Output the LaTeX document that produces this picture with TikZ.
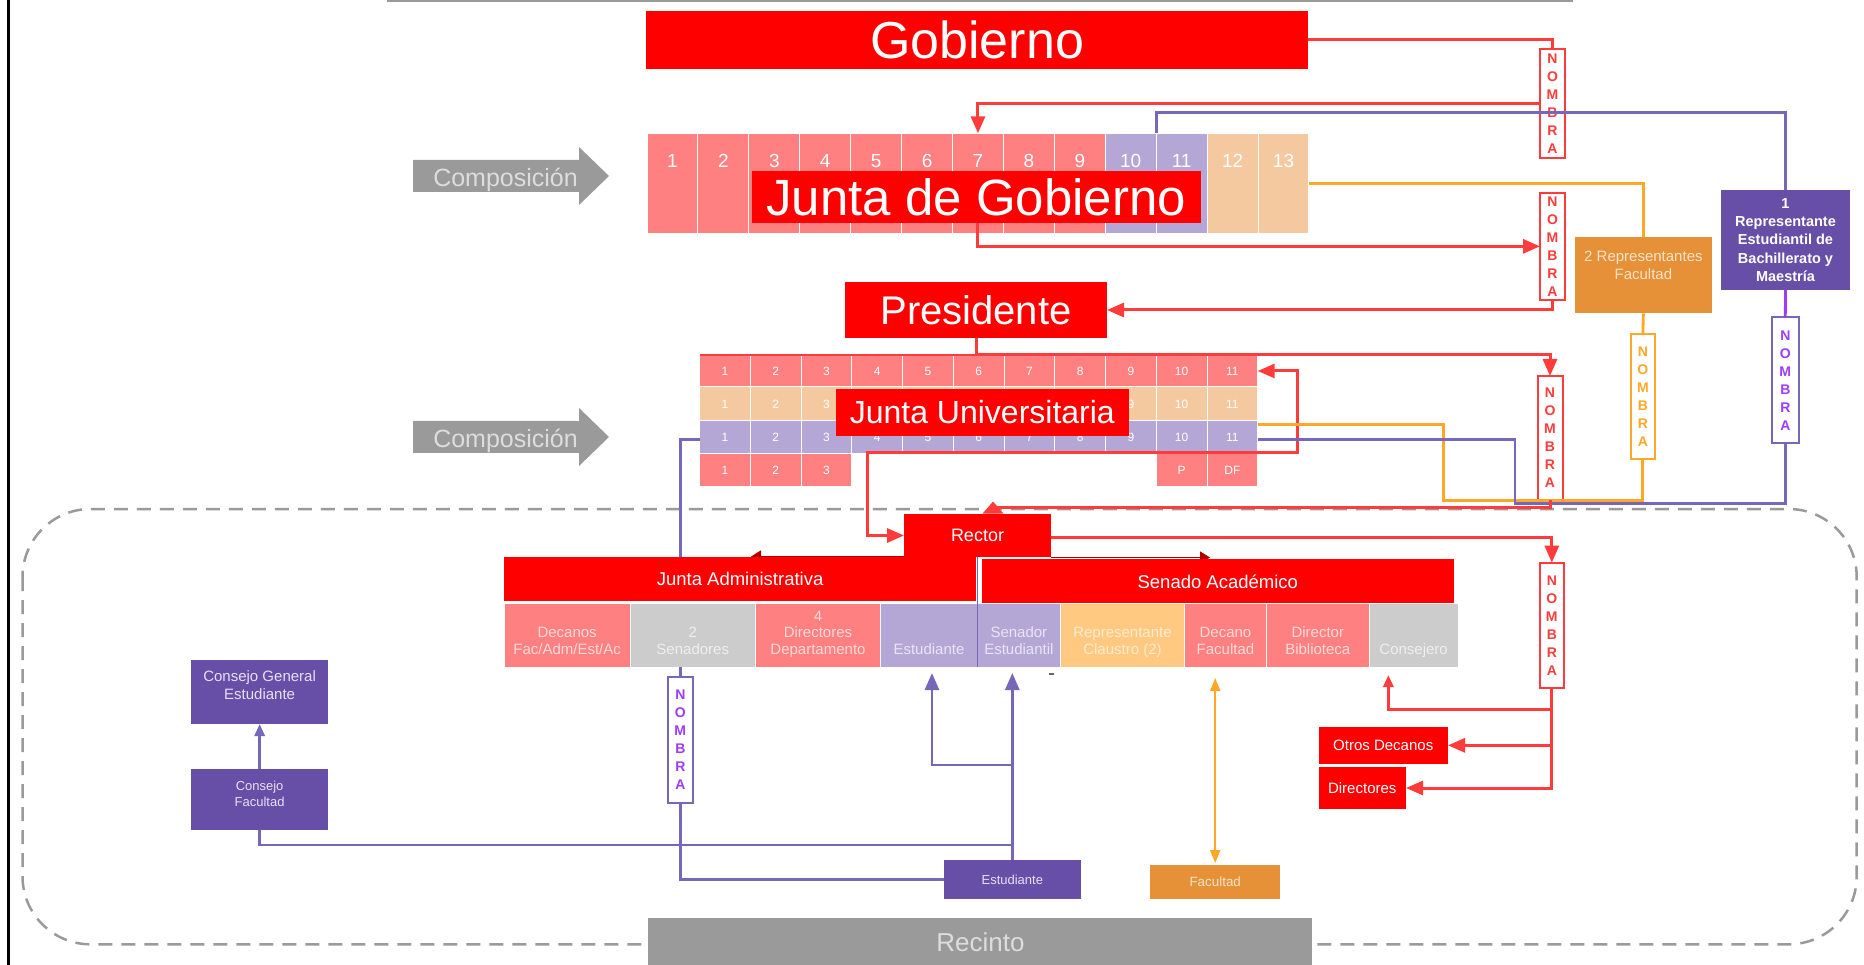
\documentclass[tikz,border=0pt]{standalone}
\usepackage{fontspec}
\setmainfont{Liberation Sans}
\usetikzlibrary{arrows.meta,calc}
\definecolor{cred}{HTML}{FF0000}
\definecolor{csalmon}{HTML}{FF8080}
\definecolor{clav}{HTML}{B4A7D6}
\definecolor{cpeach}{HTML}{F4C9A0}
\definecolor{cdpur}{HTML}{674EA7}
\definecolor{cora}{HTML}{E69138}
\definecolor{cgray}{HTML}{9A9A9A}
\definecolor{clgray}{HTML}{CCCCCC}
\definecolor{clora}{HTML}{FFC982}
\definecolor{lred}{HTML}{FF3B3B}
\definecolor{lpur}{HTML}{7767B8}
\definecolor{lora}{HTML}{FFA726}
\definecolor{lvio}{HTML}{9D3CFF}
\definecolor{dred}{HTML}{B00000}
\definecolor{tsal}{HTML}{FFD9D9}
\definecolor{tgry}{HTML}{EFEFEF}
\definecolor{tlav}{HTML}{E9E4F6}
\definecolor{tlor}{HTML}{FFEBD0}
\definecolor{tpur}{HTML}{E6E0F4}
\definecolor{tora}{HTML}{FCE3C8}
\definecolor{tcomp}{HTML}{DDDDDD}
\newcommand\myfs[2]{\fontsize{#1}{#2}\selectfont}
\newcommand\celltxt[1]{\begin{tabular}[b]{@{}c@{}}#1\end{tabular}}
\begin{document}
\begin{tikzpicture}[x=1pt,y=-1pt,
  bx/.style 2 args={inner sep=0pt,outer sep=0pt,anchor=north west,align=center,minimum width=#1pt,minimum height=#2pt},
  nb/.style 2 args={fill=white,draw=#1,text=#2,line width=2pt,font=\myfs{14}{18}\bfseries},
  ctx/.style={anchor=base,inner sep=0pt,outer sep=0pt,font=\myfs{15}{16.5}},
  rl/.style={draw=lred,line width=3pt},
  pl/.style={draw=lpur,line width=2.8pt},
  ol/.style={draw=lora,line width=2.8pt},
  vl/.style={draw=lvio,line width=2.8pt},
  myarr/.style={-{Triangle[length=17pt,width=14pt]}},
  myarrs/.style={-{Triangle[length=12pt,width=10pt]}},
]
\useasboundingbox (0,0) rectangle (1864,965);
\fill[white] (0,0) rectangle (1864,965);
\draw[cgray,line width=2pt] (387,1) -- (1573,1);
\draw[black,line width=3pt] (8.5,0) -- (8.5,965);

% dashed campus frame
\draw[cgray,line width=2.5pt,dash pattern=on 14pt off 9pt,rounded corners=68pt] (22.5,509) rectangle (1856.7,944.3);
\node[bx={664}{47},fill=cgray,text=tcomp,font=\myfs{26}{30}] (rec) at (648.4,918.3) {Recinto};

% Gobierno
\node[bx={662}{58},fill=cred,text=white,font=\myfs{52}{60}] (gob) at (646,11) {Gobierno};

% Junta de Gobierno composition
\foreach \i/\c in {1/csalmon,2/csalmon,3/csalmon,4/csalmon,5/csalmon,6/csalmon,7/csalmon,8/csalmon,9/csalmon,10/clav,11/clav,12/cpeach,13/cpeach}{
  \node[bx={50.92}{100},fill=\c,draw=white,line width=1pt] (g\i) at ({647+(\i-1)*50.92},133.3) {};
  \node[anchor=base,inner sep=0pt,text=white,font=\myfs{19}{22}] (gn\i) at ({647+(\i-0.5)*50.92},168) {\i};
}
\node[bx={448.5}{52.6},fill=cred,text=white,font=\myfs{51}{60}] (jdg) at (752,170.7) {Junta de Gobierno};

% Composicion arrows
\fill[cgray] (413,160) -- (579,160) -- (579,147) -- (609,176) -- (579,205) -- (579,192) -- (413,192) -- cycle;
\node[anchor=base,inner sep=0pt,text=tcomp,font=\myfs{25}{30}] (comp1) at (505.5,186.7) {Composición};
\fill[cgray] (413,421) -- (579,421) -- (579,408) -- (609,437) -- (579,466) -- (579,453) -- (413,453) -- cycle;
\node[anchor=base,inner sep=0pt,text=tcomp,font=\myfs{25}{30}] (comp2) at (505.5,447.7) {Composición};

% Presidente
\node[bx={262}{56},fill=cred,text=white,font=\myfs{40}{48}] (pres) at (845,282) {Presidente};

% Junta Universitaria grid
\foreach \r/\y/\h/\c in {1/355/32/csalmon,2/387/34/cpeach,3/421/32.5/clav}{
  \foreach \i in {1,...,11}{
    \node[bx={50.73}{\h},fill=\c,draw=white,line width=1pt] (ju\r-\i) at ({699.7+(\i-1)*50.73},\y) {};
  }
}
\foreach \r/\y in {1/371,3/437.25}{
  \foreach \i in {1,...,11}{
    \node[inner sep=0pt,text=white,font=\myfs{12}{14}] (jn\r-\i) at ({699.7+(\i-0.5)*50.73},\y) {\i};
  }
}
\foreach \i in {1,2,3,9,10,11}{
  \node[inner sep=0pt,text=white,font=\myfs{12}{14}] (jn2-\i) at ({699.7+(\i-0.5)*50.73},404) {\i};
}
\foreach \i/\t in {1/1,2/2,3/3,10/P,11/DF}{
  \node[bx={50.73}{32},fill=csalmon,draw=white,line width=1pt,text=white,font=\myfs{12}{14}] (ju4-\i) at ({699.7+(\i-1)*50.73},454) {\t};
}
\draw[lred,line width=1.5pt] (ju1-1.north west) -- (ju1-11.north east);
\node[bx={293.7}{47},fill=cred,text=white,font=\myfs{32}{38}] (jul) at (835.5,389) {Junta Universitaria};

% representatives
\node[bx={137.2}{76},fill=cora] (rep2) at (1574.8,237.3) {};
\node[ctx,font=\myfs{15}{18},text=tora] (rep2t) at (1643.4,279.5) {\celltxt{2 Representantes\\Facultad}};
\node[bx={129}{100},fill=cdpur,text=white,font=\myfs{14.5}{18.2}\bfseries] (rep1) at (1721,190) {1\\Representante\\Estudiantil de\\Bachillerato y\\Maestría};

% NOMBRA boxes
\node[bx={25}{109},nb={lred}{lred}] (nb1) at (1540,49) {N\\O\\M\\B\\R\\A};
\node[bx={25}{107.3},nb={lred}{lred}] (nb2) at (1540,192.7) {N\\O\\M\\B\\R\\A};
\node[bx={24.3}{125.3},nb={lora}{lora}] (nb3) at (1630.7,334) {N\\O\\M\\B\\R\\A};
\node[bx={25}{124},nb={lred}{lred}] (nb4) at (1537.5,376) {N\\O\\M\\B\\R\\A};
\node[bx={27}{126},nb={lpur}{lvio}] (nb5) at (1771.8,317.3) {N\\O\\M\\B\\R\\A};
\node[bx={23.6}{125.6},nb={lred}{lred}] (nb6) at (1540,562.7) {N\\O\\M\\B\\R\\A};
\node[bx={24.6}{126},nb={lpur}{lvio}] (nb7) at (668,676.7) {N\\O\\M\\B\\R\\A};

% Rector and councils
\node[bx={147}{43},fill=cred,text=white,font=\myfs{18}{22}] (rector) at (904,514) {Rector};
\coordinate (jaTip) at (751,556.5);
\coordinate (saTip) at (1210,557.5);
\draw[dred,line width=1.5pt,-{Triangle[length=10pt,width=12pt]}] ($(rector.west)+(0,21)$) -- (jaTip);
\draw[dred,line width=1.5pt,-{Triangle[length=10pt,width=12pt]}] ($(rector.east)+(0,22)$) -- (saTip);
\node[bx={471.8}{44},fill=cred,text=white,font=\myfs{18.5}{22}] (ja) at (504.2,556.7) {Junta Administrativa};
\node[bx={471.6}{44.3},fill=cred,text=white,font=\myfs{18.5}{22}] (sa) at (982,559.3) {Senado Académico};

% members row
\node[bx={125.8}{64},fill=csalmon,draw=white,line width=1pt] (cDec) at (504.2,603) {};
\node[bx={125.5}{64},fill=clgray,draw=white,line width=1pt] (cSen) at (630,603) {};
\node[bx={125}{64},fill=csalmon,draw=white,line width=1pt] (cDir) at (755.5,603) {};
\node[bx={96.9}{64},fill=clav,draw=white,line width=1pt] (cEst) at (880.5,603) {};
\node[bx={82.9}{64},fill=clav,draw=white,line width=1pt] (cSE) at (977.4,603) {};
\node[bx={124.3}{64},fill=clora,draw=white,line width=1pt] (cRep) at (1060.3,603) {};
\node[bx={81.7}{64},fill=csalmon,draw=white,line width=1pt] (cDF) at (1184.6,603) {};
\node[bx={103}{64},fill=csalmon,draw=white,line width=1pt] (cDB) at (1266.3,603) {};
\node[bx={88.7}{64},fill=clgray,draw=white,line width=1pt] (cCon) at (1369.3,603) {};
\node[ctx,text=tsal] (tDec) at (567.1,654) {\celltxt{Decanos\\Fac/Adm/Est/Ac}};
\node[ctx,text=tgry] (tSen) at (692.75,654) {\celltxt{2\\Senadores}};
\node[ctx,text=tsal] (tDir) at (818,654) {\celltxt{4\\Directores\\Departamento}};
\node[ctx,text=tlav] (tEst) at (928.95,654) {\celltxt{Estudiante}};
\node[ctx,text=tlav] (tSE) at (1018.85,654) {\celltxt{Senador\\Estudiantil}};
\node[ctx,text=tlor] (tRep) at (1122.45,654) {\celltxt{Representante\\Claustro (2)}};
\node[ctx,text=tsal] (tDF) at (1225.45,654) {\celltxt{Decano\\Facultad}};
\node[ctx,text=tsal] (tDB) at (1317.8,654) {\celltxt{Director\\Biblioteca}};
\node[ctx,text=tgry] (tCon) at (1413.65,654) {\celltxt{Consejero}};
\draw[lpur,line width=1.5pt] (cEst.south east) -- (cEst.south east |- ja.north);
\draw[black!60,line width=2pt] (1048.5,674) -- (1053.5,674);

% lower boxes
\node[bx={137.5}{64},fill=cdpur] (cge) at (190.9,660) {};
\node[ctx,font=\myfs{15}{18.3},text=tpur] (cget) at (259.6,699.7) {\celltxt{Consejo General\\Estudiante}};
\node[bx={137.5}{60.7},fill=cdpur] (cf) at (190.9,769.3) {};
\node[ctx,font=\myfs{13}{15.7},text=tpur] (cft) at (259.6,806.4) {\celltxt{Consejo\\Facultad}};
\node[bx={136.8}{39.3},fill=cdpur,text=tpur,font=\myfs{13}{16}] (est) at (943.9,860) {Estudiante};
\node[bx={129.6}{34.3},fill=cora,text=tora,font=\myfs{13.4}{16}] (fac) at (1150.4,865) {Facultad};
\node[bx={129.5}{37.3},fill=cred,text=white,font=\myfs{15}{18}] (od) at (1318.5,726.7) {Otros Decanos};
\node[bx={87.5}{42.6},fill=cred,text=white,font=\myfs{15}{18}] (dirs) at (1318.5,766.7) {Directores};

% connectors
\draw[rl] (gob.east) -| (nb1.north);
\draw[rl,myarr] (nb1.west) -| (g7.north);
\draw[pl] (g11.north west) -- ++(0,-21) -| (rep1.north);
\draw[rl,myarr] (jdg.south -| g7.north) |- (nb2.west);
\draw[rl,myarr] (nb2.south) |- (pres.east);
\draw[ol] (g13.east) -| (rep2.north);
\draw[ol] (rep2.south) -- (nb3.north);
\draw[vl] (rep1.south) -- (nb5.north);
\draw[rl,myarr] (pres.south) -- ++(0,17) -| (nb4.north);
\coordinate (jrK) at (867,453);
\draw[rl,{Triangle[length=17pt,width=14pt]}-{Triangle[length=17pt,width=14pt]}] (ju1-11.east) -- ++(39.5,0) |- (jrK) |- (rector.west);
\draw[ol] ($(ju2-11.south east)+(0,3.3)$) -- ++(185.4,0) |- ($(nb3.south)+(0,41.4)$) -- (nb3.south);
\draw[pl] ($(ju3-11.east)+(0,2)$) -- ++(257.3,0) |- ($(nb5.south)+(0,60)$) -- (nb5.south);
\coordinate (pL) at ($(ju3-1.west)+(0,2)$);
\draw[pl] (pL) -- (pL -| nb7.north) -- (nb7.north |- ja.north);
\draw[rl,-{Triangle[length=12pt,width=20pt]}] (nb4.south) |- ($(rector.north)+(15.5,-7)$) -- ++(0,-5.5);
\draw[rl,myarr] ($(rector.east)+(0,2)$) -| (nb6.north);
\draw[rl,myarrs] (nb6.south) -- ++(0,21) -| ($(cCon.south)+(-25.3,8)$);
\draw[rl,myarr] (nb6.south) |- (od.east);
\draw[rl,myarr] (nb6.south) |- (dirs.east);
\draw[pl] (nb7.north |- cSen.south) -- (nb7.north);
\draw[pl] (nb7.south) |- (est.west);
\draw[pl,myarr] (est.north) -- ($(est.north |- cSE.south)+(0,6)$);
\draw[pl,myarr] ($(est.north)+(0,-95)$) -| ($(cEst.south)+(3,6)$);
\draw[pl] (cf.south) |- ($(est.north)+(0,-15)$);
\draw[pl,myarrs] (cf.north) -- (cge.south);
\draw[ol,line width=2pt,{Triangle[length=13pt,width=10pt]}-{Triangle[length=13pt,width=10pt]}] ($(fac.north |- cDF.south)+(0,11)$) -- ($(fac.north)+(0,-2)$);
\end{tikzpicture}
\end{document}
